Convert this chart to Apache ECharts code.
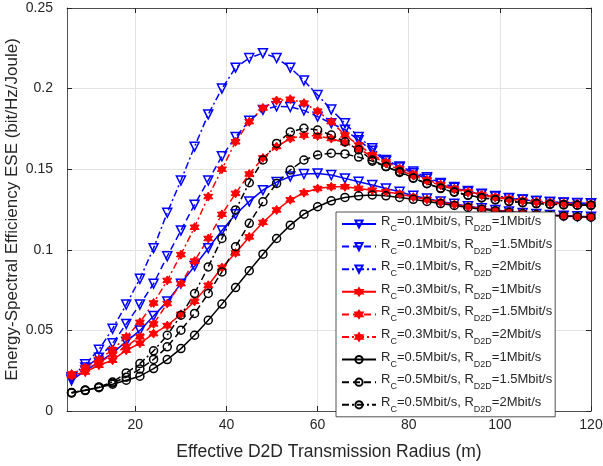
<!DOCTYPE html>
<html>
<head>
<meta charset="utf-8">
<script src="https://cdn.jsdelivr.net/npm/echarts@6/dist/echarts.min.js"></script>
<style>
  html, body { margin: 0; padding: 0; background: #fff; }
</style>
</head>
<body>
<div id="main" style="width: 603px; height: 466px"></div>
<script>
// radius (m)
var radius = [6, 9, 12, 15, 18, 21, 24, 27, 30, 33, 36, 39, 42, 45, 48, 51, 54, 57, 60, 63,
  66, 69, 72, 75, 78, 81, 84, 87, 90, 93, 96, 99, 102, 105, 108, 111, 114, 117, 120];
var xTicks = [20, 40, 60, 80, 100, 120];

// Rc = 0.1 Mbit/s
var b1 = [0.019, 0.025, 0.030, 0.036, 0.043, 0.050, 0.059, 0.068, 0.079, 0.090, 0.101, 0.112, 0.122, 0.130, 0.137, 0.142, 0.1455, 0.147, 0.1474, 0.1464,
  0.1443, 0.1422, 0.1402, 0.138, 0.136, 0.1335, 0.1318, 0.130, 0.1285, 0.127, 0.1258, 0.1247, 0.1237, 0.1229, 0.1222, 0.1216, 0.1212, 0.1208, 0.1205];
var b15 = [0.020, 0.027, 0.033, 0.042, 0.054, 0.066, 0.079, 0.096, 0.112, 0.128, 0.143, 0.158, 0.170, 0.180, 0.1868, 0.189, 0.1886, 0.1865, 0.1826, 0.1785,
  0.1745, 0.168, 0.1615, 0.155, 0.151, 0.1475, 0.144, 0.141, 0.1385, 0.136, 0.1345, 0.133, 0.132, 0.131, 0.1302, 0.1296, 0.1292, 0.1289, 0.1287];
var b2 = [0.021, 0.029, 0.038, 0.051, 0.066, 0.082, 0.101, 0.123, 0.143, 0.164, 0.184, 0.200, 0.213, 0.219, 0.222, 0.219, 0.213, 0.205, 0.196, 0.187,
  0.1785, 0.170, 0.163, 0.1557, 0.1516, 0.1485, 0.145, 0.1415, 0.139, 0.1365, 0.1348, 0.1333, 0.1322, 0.1312, 0.1303, 0.1297, 0.1293, 0.129, 0.1288];

// Rc = 0.3 Mbit/s
var r1 = [0.022, 0.0242, 0.0284, 0.0315, 0.0377, 0.042, 0.048, 0.053, 0.060, 0.068, 0.078, 0.089, 0.098, 0.108, 0.117, 0.1247, 0.131, 0.1354, 0.138, 0.1391,
  0.1391, 0.1381, 0.137, 0.136, 0.1346, 0.1327, 0.1312, 0.1296, 0.1281, 0.1268, 0.1256, 0.1245, 0.1236, 0.1228, 0.1221, 0.1215, 0.1211, 0.1207, 0.1204];
var r15 = [0.022, 0.026, 0.030, 0.035, 0.040, 0.046, 0.054, 0.0667, 0.079, 0.093, 0.107, 0.122, 0.135, 0.147, 0.157, 0.164, 0.169, 0.171, 0.1706, 0.169,
  0.1665, 0.1625, 0.158, 0.1535, 0.1495, 0.146, 0.1428, 0.140, 0.1375, 0.1355, 0.1338, 0.1324, 0.1313, 0.1303, 0.1296, 0.129, 0.1286, 0.1283, 0.1281];
var r2 = [0.023, 0.027, 0.032, 0.038, 0.046, 0.055, 0.067, 0.081, 0.097, 0.114, 0.133, 0.150, 0.167, 0.1795, 0.188, 0.1926, 0.1934, 0.191, 0.186, 0.1795,
  0.1712, 0.165, 0.159, 0.1545, 0.1505, 0.147, 0.1435, 0.1405, 0.138, 0.136, 0.1343, 0.1328, 0.1317, 0.1307, 0.1299, 0.1293, 0.1289, 0.1286, 0.1284];

// Rc = 0.5 Mbit/s
var k1 = [0.0115, 0.0127, 0.0145, 0.0166, 0.0191, 0.0216, 0.0263, 0.0319, 0.0387, 0.047, 0.0563, 0.0663, 0.0766, 0.087, 0.0973, 0.107, 0.1153, 0.1221, 0.1267, 0.1304,
  0.1325, 0.1335, 0.134, 0.1335, 0.1325, 0.1313, 0.130, 0.1287, 0.1275, 0.1263, 0.1252, 0.1242, 0.1233, 0.1225, 0.1219, 0.1213, 0.1209, 0.1205, 0.1202];
var k15 = [0.0113, 0.013, 0.0148, 0.0174, 0.021, 0.026, 0.032, 0.0398, 0.0501, 0.0605, 0.0729, 0.0863, 0.1019, 0.1164, 0.1298, 0.1412, 0.1495, 0.1557, 0.1588, 0.1599,
  0.1595, 0.1575, 0.155, 0.1516, 0.148, 0.1445, 0.1412, 0.1383, 0.136, 0.134, 0.1324, 0.1311, 0.1301, 0.1293, 0.1287, 0.1282, 0.1279, 0.1277, 0.1276];
var k2 = [0.0112, 0.0129, 0.0149, 0.018, 0.0236, 0.0294, 0.0373, 0.047, 0.0594, 0.0729, 0.0894, 0.107, 0.1247, 0.1416, 0.1557, 0.166, 0.173, 0.1754, 0.1743, 0.1712,
  0.167, 0.162, 0.1557, 0.1516, 0.1485, 0.1445, 0.141, 0.138, 0.1357, 0.1338, 0.1322, 0.131, 0.130, 0.1292, 0.1287, 0.1283, 0.128, 0.1278, 0.1277];

var FONT = "'Liberation Sans', Arial, sans-serif";
var TXT = "#262626";
var DASH = [7, 4];
var DASHDOT = [7, 3, 2, 3];
var TRI = "triangle";
var STAR = "path://M0,-10L2.9,-5L8.66,-5L5.8,0L8.66,5L2.9,5L0,10L-2.9,5L-8.66,5L-5.8,0L-8.66,-5L-2.9,-5Z";

function pairs(ys) {
  var out = [];
  for (var i = 0; i < radius.length; i++) out.push([radius[i], ys[i]]);
  return out;
}

function mk(name, ys, color, ltype, symbol) {
  var s = {
    name: name,
    type: "line",
    data: pairs(ys),
    symbol: symbol,
    symbolSize: 8,
    showAllSymbol: true,
    lineStyle: { color: color, width: 1.5, type: ltype },
    itemStyle: { color: "rgba(0,0,0,0)", borderColor: color, borderWidth: 1.5 },
    emphasis: { disabled: true },
    animation: false
  };
  if (symbol === TRI) {
    s.symbolRotate = 180;
    s.symbolSize = 9;
  }
  if (symbol === STAR) {
    s.itemStyle = { color: color, borderColor: color, borderWidth: 1 };
    s.symbolSize = 9;
  }
  return s;
}

var series = [
  mk("0.1|1", b1, "#0000ff", "solid", TRI),
  mk("0.1|1.5", b15, "#0000ff", DASH, TRI),
  mk("0.1|2", b2, "#0000ff", DASHDOT, TRI),
  mk("0.3|1", r1, "#ff0000", "solid", STAR),
  mk("0.3|1.5", r15, "#ff0000", DASH, STAR),
  mk("0.3|2", r2, "#ff0000", DASHDOT, STAR),
  mk("0.5|1", k1, "#000000", "solid", "circle"),
  mk("0.5|1.5", k15, "#000000", DASH, "circle"),
  mk("0.5|2", k2, "#000000", DASHDOT, "circle")
];

var chart = echarts.init(document.getElementById("main"));
chart.setOption({
  backgroundColor: "#fff",
  animation: false,
  textStyle: { fontFamily: FONT },
  grid: { left: 67, right: 12, top: 8, bottom: 55, outerBoundsMode: "none", containLabel: false },
  legend: {
    orient: "vertical",
    left: 336,
    top: 212,
    backgroundColor: "#fff",
    borderColor: TXT,
    borderWidth: 0.8,
    borderRadius: 0,
    padding: [3, 3, 3, 5],
    itemWidth: 34,
    itemHeight: 9,
    itemGap: 4.6,
    data: series.map(function (s) { return s.name; }),
    formatter: function (name) {
      var p = name.split("|");
      return "{n|R}{s|C}{n|=" + p[0] + "Mbit/s, R}{s|D2D}{n|=" + p[1] + "Mbit/s}";
    },
    textStyle: {
      rich: {
        n: { fontSize: 13, fontFamily: FONT, color: TXT, lineHeight: 18, verticalAlign: "top" },
        s: { fontSize: 9, fontFamily: FONT, color: TXT, lineHeight: 18, verticalAlign: "bottom" }
      }
    }
  },
  xAxis: [
    {
      type: "value",
      min: 5,
      max: 120,
      name: "Effective D2D Transmission Radius (m)",
      nameLocation: "middle",
      nameGap: 32,
      nameTextStyle: { fontSize: 17.5, color: TXT, fontFamily: FONT },
      axisLine: { lineStyle: { color: TXT, width: 0.8 } },
      axisTick: { inside: true, length: 5, customValues: xTicks, lineStyle: { color: TXT } },
      axisLabel: { customValues: xTicks, fontSize: 14, color: TXT, margin: 7 },
      splitLine: { show: true, lineStyle: { color: "#e3e3e3", width: 1 } }
    },
    {
      type: "value",
      position: "top",
      min: 5,
      max: 120,
      axisLine: { show: true, onZero: false, lineStyle: { color: TXT, width: 0.8 } },
      axisTick: { inside: true, length: 5, customValues: xTicks, lineStyle: { color: TXT } },
      axisLabel: { show: false },
      splitLine: { show: false }
    }
  ],
  yAxis: [
    {
      type: "value",
      min: 0,
      max: 0.25,
      interval: 0.05,
      name: "Energy-Spectral Efficiency ESE (bit/Hz/Joule)",
      nameLocation: "middle",
      nameGap: 46,
      nameMoveOverlap: false,
      nameTextStyle: { fontSize: 17, color: TXT, fontFamily: FONT },
      axisLine: { show: true, lineStyle: { color: TXT, width: 0.8 } },
      axisTick: { show: true, inside: true, length: 5, lineStyle: { color: TXT } },
      axisLabel: { fontSize: 14, color: TXT, margin: 14 },
      splitLine: { show: true, lineStyle: { color: "#e3e3e3", width: 1 } }
    },
    {
      type: "value",
      position: "right",
      min: 0,
      max: 0.25,
      interval: 0.05,
      axisLine: { show: true, onZero: false, lineStyle: { color: TXT, width: 0.8 } },
      axisTick: { show: true, inside: true, length: 5, lineStyle: { color: TXT } },
      axisLabel: { show: false },
      splitLine: { show: false }
    }
  ],
  series: series
});
</script>
</body>
</html>
